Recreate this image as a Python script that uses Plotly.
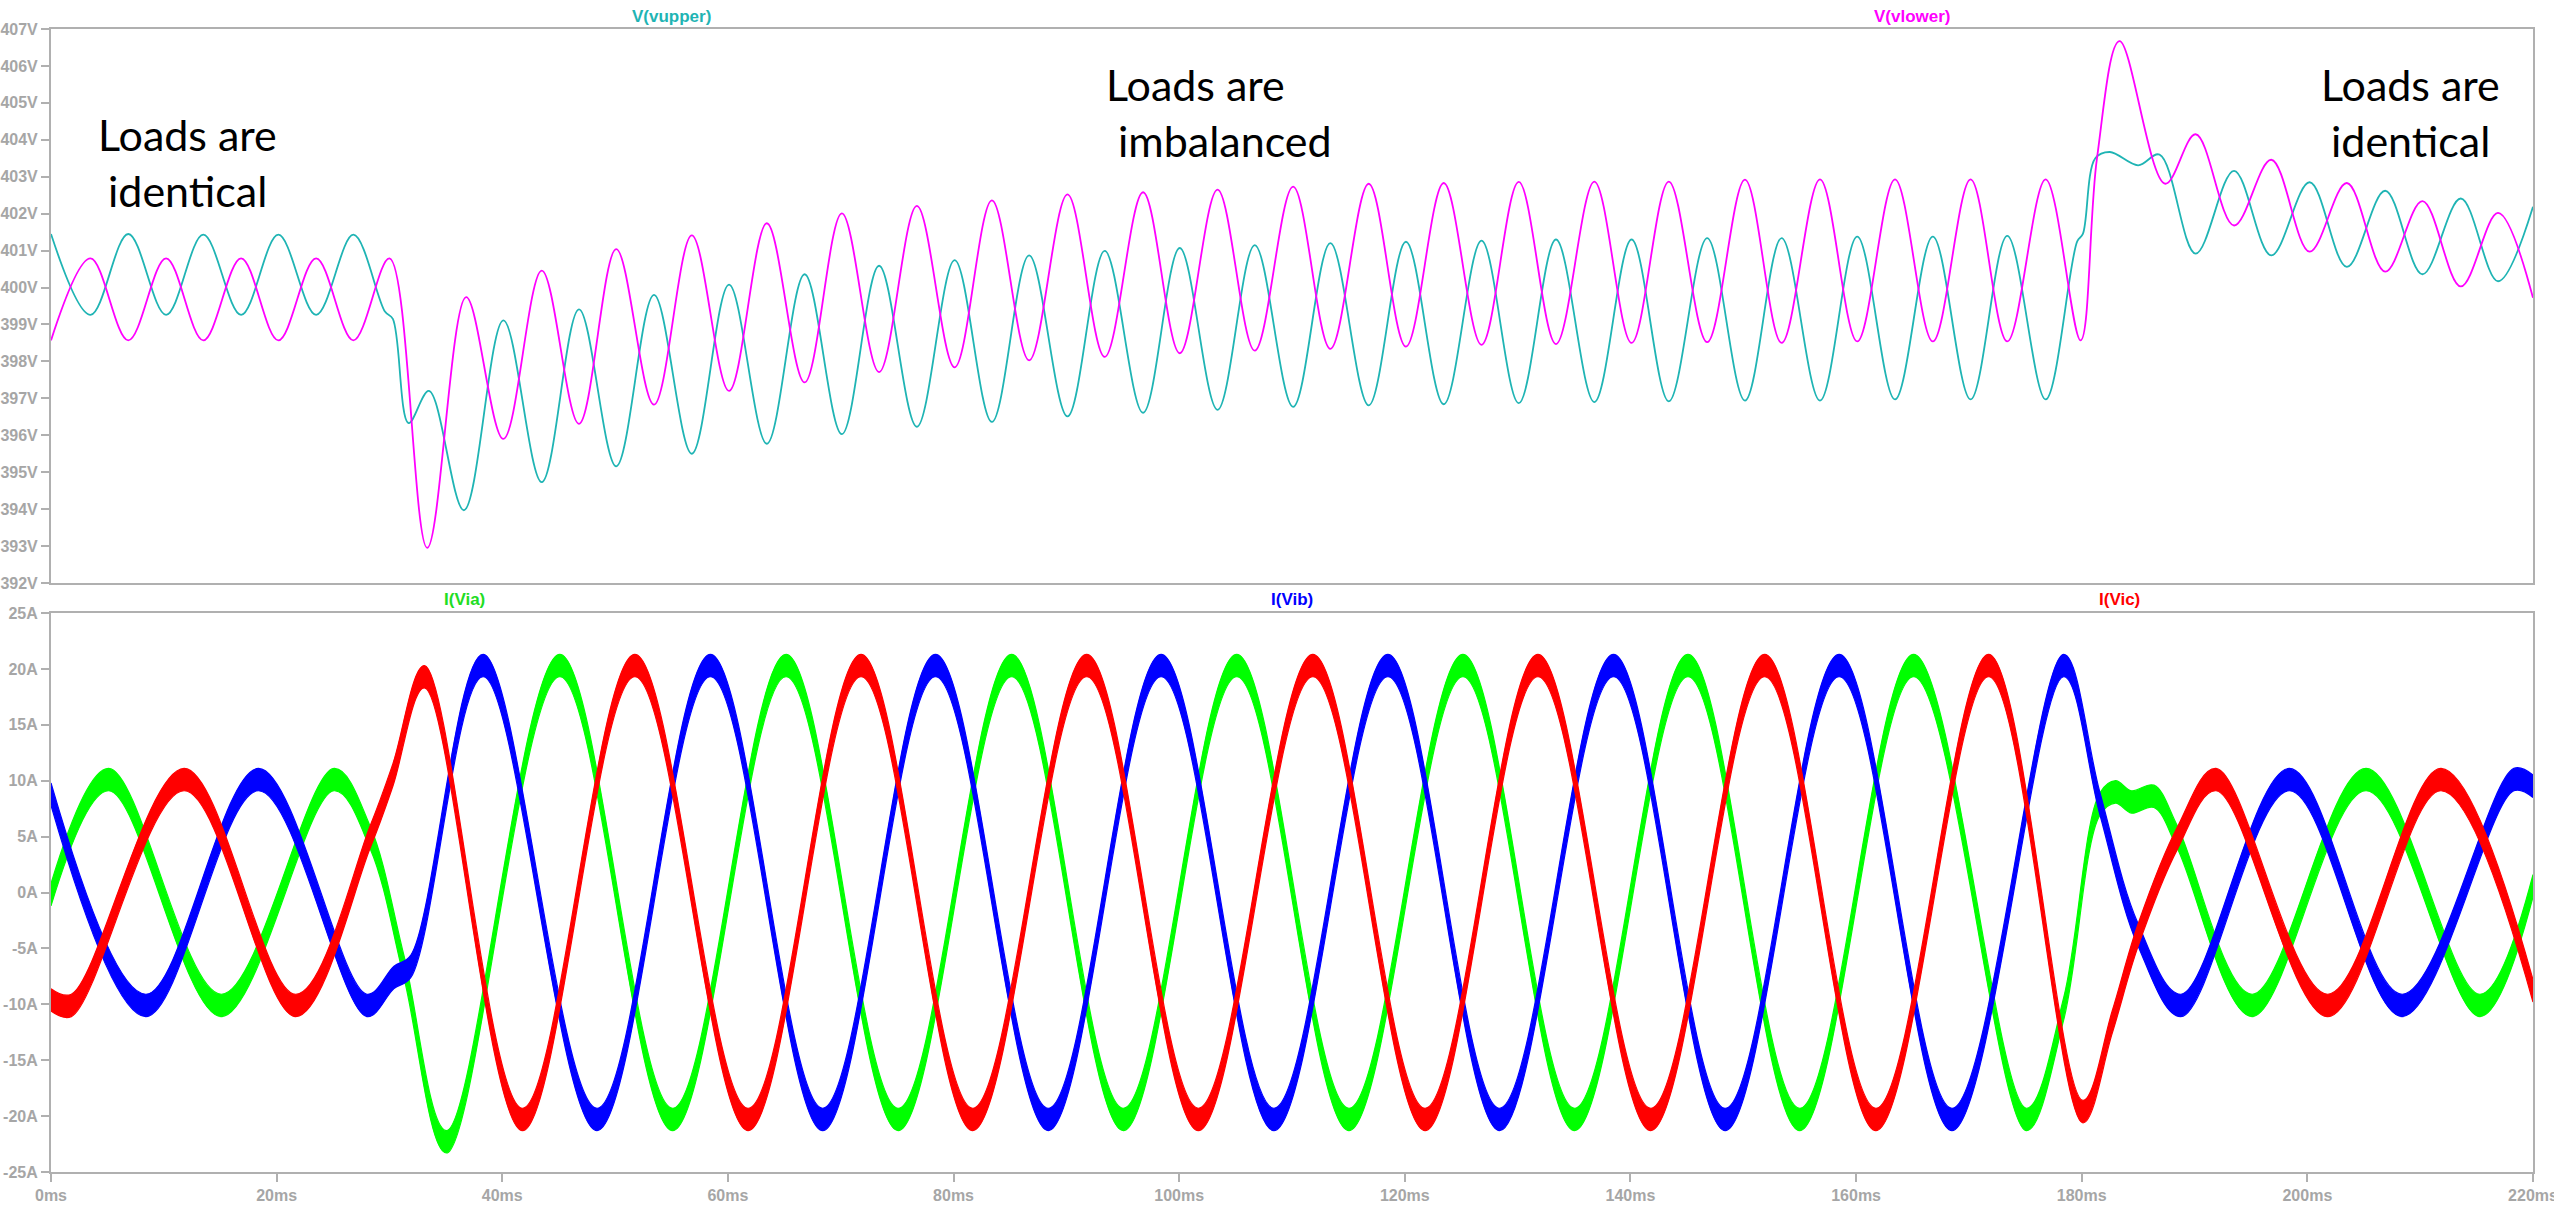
import plotly.graph_objects as go

# ---------------------------------------------------------------------------
# Waveform data: turning points of each trace (time in ms, value in V or A)
# ---------------------------------------------------------------------------
VUPPER_T = [0.0, 3.5, 6.85, 10.2, 13.5, 16.85, 20.15, 23.5, 26.8,
            29.6, 30.3, 31.7, 33.5, 36.6,
            40.1, 43.5, 46.8, 50.1, 53.45, 56.8,
            60.1, 63.45, 66.8, 70.1, 73.4, 76.75,
            80.1, 83.4, 86.7, 90.1, 93.4, 96.8,
            100.05, 103.4, 106.7, 110.1, 113.4, 116.8,
            120.1, 123.45, 126.8, 130.1, 133.4, 136.8,
            140.1, 143.4, 146.8, 150.15, 153.4, 156.8,
            160.1, 163.45, 166.8, 170.15, 173.4, 176.8,
            179.6, 180.1, 181.2, 182.5, 185.0, 186.9,
            190.1, 193.5, 196.8, 200.2, 203.5, 206.9,
            210.2, 213.6, 216.9, 220.0]
VUPPER_V = [401.45, 399.26, 401.45, 399.26, 401.43, 399.26, 401.43, 399.26, 401.43,
            399.35, 399.15, 396.33, 397.2, 393.97,
            399.11, 394.73, 399.41, 395.16, 399.8, 395.5,
            400.08, 395.77, 400.36, 396.03, 400.59, 396.23,
            400.74, 396.36, 400.87, 396.51, 400.99, 396.61,
            401.07, 396.69, 401.15, 396.77, 401.2, 396.81,
            401.24, 396.84, 401.27, 396.87, 401.3, 396.9,
            401.3, 396.92, 401.34, 396.94, 401.34, 396.94,
            401.38, 396.97, 401.38, 396.97, 401.4, 396.97,
            401.25, 401.45, 403.5, 403.67, 403.31, 403.6,
            400.92, 403.16, 400.87, 402.85, 400.56, 402.62,
            400.36, 402.41, 400.17, 402.19]

VLOWER_T = [0.0, 3.5, 6.85, 10.2, 13.5, 16.85, 20.15, 23.5, 26.8,
            30.0, 33.35, 36.8, 40.1, 43.5, 46.8, 50.1,
            53.45, 56.8, 60.1, 63.45, 66.8, 70.1, 73.4,
            76.75, 80.1, 83.4, 86.7, 90.1, 93.4, 96.8,
            100.05, 103.4, 106.7, 110.1, 113.4, 116.8, 120.1,
            123.45, 126.8, 130.1, 133.4, 136.8, 140.1, 143.4,
            146.8, 150.15, 153.4, 156.8, 160.1, 163.45, 166.8,
            170.15, 173.4, 176.8, 179.9, 181.35, 183.35,
            187.4, 190.1, 193.5, 196.8, 200.2, 203.5,
            206.9, 210.2, 213.6, 216.9, 220.0]
VLOWER_V = [398.57, 400.79, 398.57, 400.79, 398.57, 400.79, 398.57, 400.79, 398.57,
            400.79, 392.95, 399.74, 395.9, 400.46, 396.31, 401.04,
            396.83, 401.41, 397.2, 401.74, 397.43, 402.01, 397.71,
            402.21, 397.84, 402.36, 398.03, 402.52, 398.12, 402.58,
            398.22, 402.65, 398.29, 402.73, 398.34, 402.81, 398.4,
            402.83, 398.45, 402.86, 398.47, 402.87, 398.5, 402.87,
            398.52, 402.92, 398.5, 402.93, 398.54, 402.93, 398.54,
            402.93, 398.54, 402.93, 398.57, 403.5, 406.67,
            402.81, 404.15, 401.68, 403.46, 400.97, 402.83,
            400.43, 402.34, 400.03, 402.02, 399.72]

IA_T = [0.0, 5.1, 15.1, 25.1, 28.3, 31.3, 35.05,
        45.1, 55.1, 65.15, 75.1, 85.15, 95.05, 105.1, 115.05,
        125.15, 135.05, 145.1, 155.0, 165.1, 175.1,
        178.4, 181.6, 183.0, 184.4, 186.4, 188.5,
        195.1, 205.2, 215.3, 220.0]
IA = [-0.2, 10.1, -10.1, 10.1, 4.9, -6.7, -22.3,
      20.3, -20.3, 20.3, -20.3, 20.3, -20.3, 20.3, -20.3,
      20.3, -20.3, 20.3, -20.3, 20.3, -20.3,
      -10.4, 7.9, 9.0, 8.1, 8.6, 4.9,
      -10.1, 10.1, -10.1, 0.6]

IB_T = [0.0, 8.4, 18.4, 28.0, 30.4, 31.9, 38.3,
        48.4, 58.45, 68.4, 78.4, 88.4, 98.4, 108.4,
        118.5, 128.4, 138.5, 148.4, 158.5, 168.5, 178.4,
        181.6, 185.0, 188.8, 198.4, 208.4, 218.3, 220.0]
IB = [8.8, -10.1, 10.1, -10.1, -7.6, -6.6, 20.3,
      -20.3, 20.3, -20.3, 20.3, -20.3, 20.3, -20.3,
      20.3, -20.3, 20.3, -20.3, 20.3, -20.3, 20.3,
      8.0, -3.8, -10.1, 10.1, -10.1, 10.1, 9.5]

IC_T = [0.0, 1.8, 11.8, 21.7, 28.3, 30.3, 33.1,
        41.8, 51.75, 61.8, 71.8, 81.7, 91.8, 101.7,
        111.85, 121.8, 131.8, 141.8, 151.9, 161.75, 171.75,
        180.1, 182.7, 185.0, 188.5, 191.9, 201.8, 211.85, 220.0]
IC = [-9.6, -10.1, 10.1, -10.1, 5.0, 10.5, 19.3,
      -20.3, 20.3, -20.3, 20.3, -20.3, 20.3, -20.3,
      20.3, -20.3, 20.3, -20.3, 20.3, -20.3, 20.3,
      -19.6, -11.6, -3.8, 4.9, 10.1, -10.1, 10.1, -8.8]

# Axis ticks
T_TICKS = [0, 20, 40, 60, 80, 100, 120, 140, 160, 180, 200, 220]
V_TICKS = [392, 393, 394, 395, 396, 397, 398, 399, 400, 401, 402, 403, 404, 405, 406, 407]
I_TICKS = [-25, -20, -15, -10, -5, 0, 5, 10, 15, 20, 25]

# ---------------------------------------------------------------------------
# Styling / geometry
# ---------------------------------------------------------------------------
W, H = 2554, 1207
PL, PR, PT, PB = 51, 2533, 29, 1172          # plot-area edges in pixels
TOP_PANE_BOTTOM, BOTTOM_PANE_TOP = 583, 613

C_UPPER = "#1fb4b4"
C_LOWER = "#ff00ff"
C_A, C_B, C_C = "#00ff00", "#0000ff", "#ff0000"
AXIS_GRAY = "#b0b0b0"
TEXT_GRAY = "#a6a6a6"
RIPPLE = 1.0        # half-height of the switching-ripple band on the currents (A)

TICK_FONT = dict(family="Liberation Sans, Arial", size=16, color=TEXT_GRAY, weight="bold")
LABEL_FONT_SIZE = 17
NOTE_FONT = dict(family="Lato", size=43, color="black")


def fx(px):
    return (px - PL) / (PR - PL)


def fy(py):
    return (PB - py) / (PB - PT)


fig = go.Figure()

# Top pane: capacitor mid-point voltages
fig.add_trace(go.Scatter(x=VUPPER_T, y=VUPPER_V, xaxis="x2", yaxis="y2", mode="lines",
                         line=dict(color=C_UPPER, width=1.8, shape="spline", smoothing=1),
                         hoverinfo="skip"))
fig.add_trace(go.Scatter(x=VLOWER_T, y=VLOWER_V, xaxis="x2", yaxis="y2", mode="lines",
                         line=dict(color=C_LOWER, width=1.8, shape="spline", smoothing=1),
                         hoverinfo="skip"))

# Bottom pane: phase currents drawn as a narrow ripple band
for t, i, col in ((IA_T, IA, C_A), (IB_T, IB, C_B), (IC_T, IC, C_C)):
    fig.add_trace(go.Scatter(x=t, y=[v + RIPPLE for v in i], xaxis="x", yaxis="y",
                             mode="lines", line=dict(color=col, width=1.2, shape="spline", smoothing=1),
                             hoverinfo="skip"))
    fig.add_trace(go.Scatter(x=t, y=[v - RIPPLE for v in i], xaxis="x", yaxis="y",
                             mode="lines", fill="tonexty", fillcolor=col,
                             line=dict(color=col, width=1.2, shape="spline", smoothing=1),
                             hoverinfo="skip"))

frame = dict(showline=True, mirror=True, linecolor=AXIS_GRAY, linewidth=2,
             showgrid=False, zeroline=False)

fig.update_layout(
    width=W, height=H,
    margin=dict(l=PL, r=W - PR, t=PT, b=H - PB, autoexpand=False),
    paper_bgcolor="white", plot_bgcolor="white", showlegend=False,
    xaxis=dict(domain=[0, 1], anchor="y", range=[0, 220],
               tickmode="array", tickvals=T_TICKS, ticktext=[f"{v}ms" for v in T_TICKS],
               ticks="outside", ticklen=8, tickwidth=2, tickcolor=AXIS_GRAY,
               ticklabeloverflow="allow", tickfont=TICK_FONT, **frame),
    yaxis=dict(domain=[0, fy(BOTTOM_PANE_TOP)], anchor="x", range=[-25, 25],
               tickmode="array", tickvals=I_TICKS, ticktext=[f"{v}A" for v in I_TICKS],
               ticks="outside", ticklen=8, tickwidth=2, tickcolor=AXIS_GRAY,
               tickfont=TICK_FONT, **frame),
    xaxis2=dict(domain=[0, 1], anchor="y2", range=[0, 220],
                showticklabels=False, ticks="", **frame),
    yaxis2=dict(domain=[fy(TOP_PANE_BOTTOM), 1], anchor="x2", range=[392, 407],
                tickmode="array", tickvals=V_TICKS, ticktext=[f"{v}V" for v in V_TICKS],
                ticks="outside", ticklen=8, tickwidth=2, tickcolor=AXIS_GRAY,
                tickfont=TICK_FONT, **frame),
)

annotations = []

# Trace names above each pane
for text, col, xf, py in (("V(vupper)", C_UPPER, 0.25, 17), ("V(vlower)", C_LOWER, 0.75, 17),
                          ("I(Via)", "#22dd22", 1 / 6, 599), ("I(Vib)", C_B, 0.5, 599),
                          ("I(Vic)", C_C, 5 / 6, 599)):
    annotations.append(dict(text=text, xref="paper", yref="paper", x=xf, y=fy(py),
                            xanchor="center", yanchor="middle", showarrow=False,
                            font=dict(family="Liberation Sans, Arial", size=LABEL_FONT_SIZE,
                                      color=col, weight="bold")))

# Operating-condition notes
for text, px, py in (("Loads are", 187, 134), ("identical", 187, 191),
                     ("Loads are", 1195, 84), ("imbalanced", 1225, 140),
                     ("Loads are", 2410, 84), ("identical", 2410, 140)):
    annotations.append(dict(text=text, xref="paper", yref="paper", x=fx(px), y=fy(py),
                            xanchor="center", yanchor="middle", showarrow=False, font=NOTE_FONT))

fig.update_layout(annotations=annotations)

fig.write_html("out.html", config={"displayModeBar": False},
               post_script="document.body.style.margin='0';")
